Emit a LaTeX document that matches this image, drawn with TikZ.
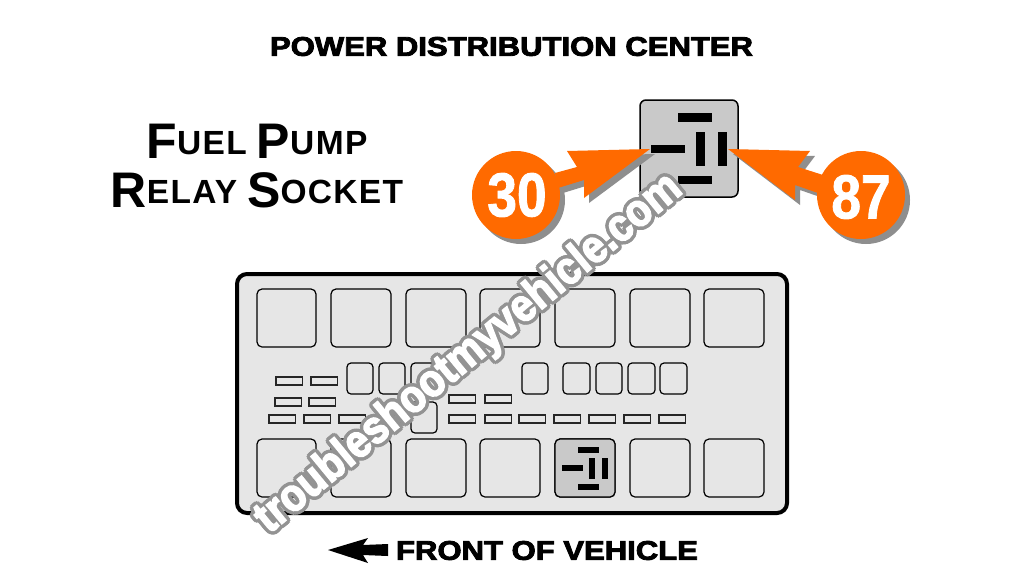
\documentclass[tikz,border=0pt]{standalone}
\usepackage{fontspec}
\usetikzlibrary{calc}
\setmainfont{Liberation Sans}
\definecolor{pumporange}{HTML}{FF6A00}
\definecolor{shadowgray}{HTML}{8E8E8E}
\definecolor{panelgray}{HTML}{E6E6E6}
\definecolor{relaygray}{HTML}{C9C9C9}
\definecolor{markgray}{HTML}{939393}
\tikzset{
    panelbox/.style={draw=black, line width=4pt, fill=panelgray, rounded corners=10pt},
    relaybox/.style={draw=black, line width=1.5pt, rounded corners=6pt},
    fusebox/.style={draw=black!85, line width=1.3pt, rounded corners=1pt},
    pinbar/.style={fill=black},
    heading/.style={font=\bfseries\addfontfeature{FakeBold=3}\fontsize{27}{27}\selectfont, inner sep=0pt, xscale=1.15},
    relayname/.style={font=\bfseries, inner sep=0pt, anchor=base},
    pointer/.style={fill=pumporange},
    pointershadow/.style={fill=shadowgray},
    pinnumber/.style={text=white, font=\bfseries\addfontfeature{FakeBold=1.5}\fontsize{62}{62}\selectfont, inner sep=0pt, xscale=0.86},
    markline/.style={inner sep=0pt, rotate=39.5, xscale=0.88}
}
\newcommand{\wmark}{\fontsize{46}{46}\selectfont\bfseries\addfontfeature{FakeBold=3.5}troubleshootmyvehicle.com}
\newcommand{\capsA}[1]{{\fontsize{50}{50}\selectfont #1}}
\newcommand{\capsB}[1]{\raisebox{4pt}{\fontsize{33.5}{33.5}\selectfont\addfontfeature{LetterSpace=4}#1}}
\begin{document}
\begin{tikzpicture}[x=1pt, y=-1pt]
    \useasboundingbox (0,0) rectangle (1024,576);
    \fill[white] (0,0) rectangle (1024,576);
    % Headings
    \node[heading] (title) at (511.5,46.5) {POWER DISTRIBUTION CENTER};
    \node[relayname] (relayA) at (257,158) {\capsA{F}\capsB{UEL}\hspace{10pt}\capsA{P}\capsB{UMP}};
    \node[relayname] (relayB) at (257,207) {\capsA{R}\capsB{ELAY}\hspace{10pt}\capsA{S}\capsB{OCKET}};
    % Large relay socket
    \draw[relaybox, fill=relaygray] (640,100) rectangle (738,197);
    \foreach \xa/\ya/\xb/\yb in {678/113/712/122, 678/176/712/184, 651/145/685/153, 696/132/705/166, 718/132/727/166}
        \fill[pinbar] (\xa,\ya) rectangle (\xb,\yb);
    % Pointer 30
    \fill[pointershadow] (521,200) circle (44);
    \fill[pointershadow, shift={(5,5)}] (555,173) -- (577,167) -- (567,151) -- (650,149) -- (584,198) -- (584,180) -- (558,188) -- cycle;
    \fill[pointer] (555,173) -- (577,167) -- (567,151) -- (650,149) -- (584,198) -- (584,180) -- (558,188) -- cycle;
    \fill[pointer] (516,195) circle (44);
    \node[pinnumber] (pinA) at (517,195) {30};
    % Pointer 87
    \fill[pointershadow] (866,200) circle (44);
    \fill[pointershadow, shift={(5,5)}] (728,149) -- (810,151) -- (798,167) -- (823,175) -- (818,193) -- (795,185) -- (795,200) -- cycle;
    \fill[pointer] (728,149) -- (810,151) -- (798,167) -- (823,175) -- (818,193) -- (795,185) -- (795,200) -- cycle;
    \fill[pointer] (861,195) circle (44);
    \node[pinnumber] (pinB) at (861,197) {87};
    % Fuse panel
    \draw[panelbox] (237,274) rectangle (787,513);
    \foreach \xa/\xb in {257/316, 331/391, 406/466, 480/540, 555/615, 630/690, 704/764} {
        \draw[relaybox, rounded corners=5pt, line width=1.2pt] (\xa,289) rectangle (\xb,347);
        \draw[relaybox, rounded corners=5pt, line width=1.2pt] (\xa,439) rectangle (\xb,497);
    }
    % Fuses
    \foreach \xa/\xb in {347/373, 379/405, 411/437, 522/548, 563/590, 596/622, 628/655, 660/687}
        \draw[relaybox, rounded corners=4pt, line width=1.2pt] (\xa,363) rectangle (\xb,394);
    \draw[relaybox, rounded corners=4pt, line width=1.2pt] (411,402) rectangle (437,433);
    \foreach \xa/\ya in {276/377, 311/377, 275/398, 309/398, 449/395, 485/395, 269/415, 304/415, 339/415, 374/415, 449/415, 485/415, 519/415, 554/415, 589/415, 624/415, 659/415}
        \draw[fusebox, rounded corners=0pt] (\xa,\ya) rectangle ++(26.5,8);
    % Small relay socket
    \draw[relaybox, rounded corners=5pt, line width=1.2pt, fill=relaygray] (555,439) rectangle (615,497);
    \foreach \xa/\ya/\xb/\yb in {578/447/599/453, 578/484/599/490, 562/465/583/471, 589/458/595/479, 602/458/608/479}
        \fill[pinbar] (\xa,\ya) rectangle (\xb,\yb);
    % Front of vehicle
    \fill[black] (328,550) -- (368,538) -- (363,545) -- (388,544) -- (388,556) -- (363,555) -- (368,563) -- cycle;
    \node[heading] (front) at (547,550.5) {FRONT OF VEHICLE};
    % Watermark
    \foreach \ang in {0,30,...,330}
        \node[markline, text=markgray] (wm\ang) at ($(469,354)+(\ang:3.5)$) {\wmark};
    \node[markline, text=white] (wmtop) at (469,354) {\wmark};
\end{tikzpicture}
\end{document}
